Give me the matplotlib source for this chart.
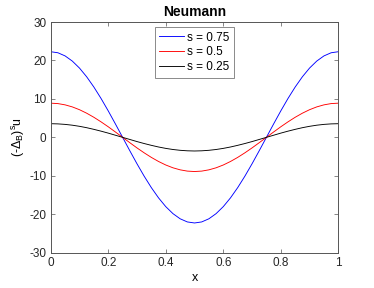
import matplotlib
matplotlib.use("Agg")
import matplotlib.pyplot as plt

plt.rcParams['font.family'] = ['Liberation Sans', 'DejaVu Sans']
plt.rcParams['mathtext.fontset'] = 'custom'
plt.rcParams['mathtext.rm'] = 'Liberation Sans'
plt.rcParams['mathtext.it'] = 'Liberation Sans'
plt.rcParams['axes.unicode_minus'] = False

# sample points along x (step 0.025)
x = [i * 0.025 for i in range(41)]

half_075 = [22.27, 22.00, 21.18, 19.84, 18.02, 15.75, 13.09, 10.11, 6.88, 3.48, 0.0,
            -3.48, -6.88, -10.11, -13.09, -15.75, -18.02, -19.84, -21.18, -22.00, -22.27]
half_05 = [8.89, 8.78, 8.45, 7.92, 7.19, 6.28, 5.22, 4.03, 2.75, 1.39, 0.0,
           -1.39, -2.75, -4.03, -5.22, -6.28, -7.19, -7.92, -8.45, -8.78, -8.89]
half_025 = [3.55, 3.50, 3.37, 3.16, 2.87, 2.51, 2.08, 1.61, 1.10, 0.55, 0.0,
            -0.55, -1.10, -1.61, -2.08, -2.51, -2.87, -3.16, -3.37, -3.50, -3.55]

# curves are symmetric about x = 0.5
y_075 = half_075 + half_075[-2::-1]
y_05 = half_05 + half_05[-2::-1]
y_025 = half_025 + half_025[-2::-1]

labels = ['s = 0.75', 's = 0.5', 's = 0.25']
colors = ['#0000ff', '#ff0000', '#000000']

fig = plt.figure(figsize=(3.74, 2.88), dpi=100)
ax = fig.add_axes([0.1356, 0.1226, 0.769, 0.801])

for y, lab, c in zip([y_075, y_05, y_025], labels, colors):
    ax.plot(x, y, color=c, linewidth=0.65, label=lab)

ax.set_xlim(0, 1)
ax.set_ylim(-30, 30)
ax.set_xticks([0, 0.2, 0.4, 0.6, 0.8, 1])
ax.set_xticklabels(['0', '0.2', '0.4', '0.6', '0.8', '1'])
ax.set_yticks([-30, -20, -10, 0, 10, 20, 30])

for sp in ax.spines.values():
    sp.set_color('#555555')
    sp.set_linewidth(0.7)
ax.tick_params(direction='in', length=3, width=0.5, labelsize=8.5,
               top=True, right=True, color='#555555', labelcolor='#262626', pad=3)

ax.set_title('Neumann', fontsize=10, fontweight='bold', pad=4)
ax.set_xlabel('x', fontsize=9, labelpad=2)
ax.set_ylabel(r'(-$\Delta_B$)$^s$u', fontsize=9, labelpad=2)

leg = ax.legend(loc='upper center', bbox_to_anchor=(0.5, 0.992), fontsize=8.5,
                frameon=True, fancybox=False, edgecolor='#555555',
                handlelength=2.1, handletextpad=0.25, borderpad=0.35,
                labelspacing=0.25, borderaxespad=0.3)
leg.get_frame().set_linewidth(0.6)

plt.savefig('out.png', dpi=100)
